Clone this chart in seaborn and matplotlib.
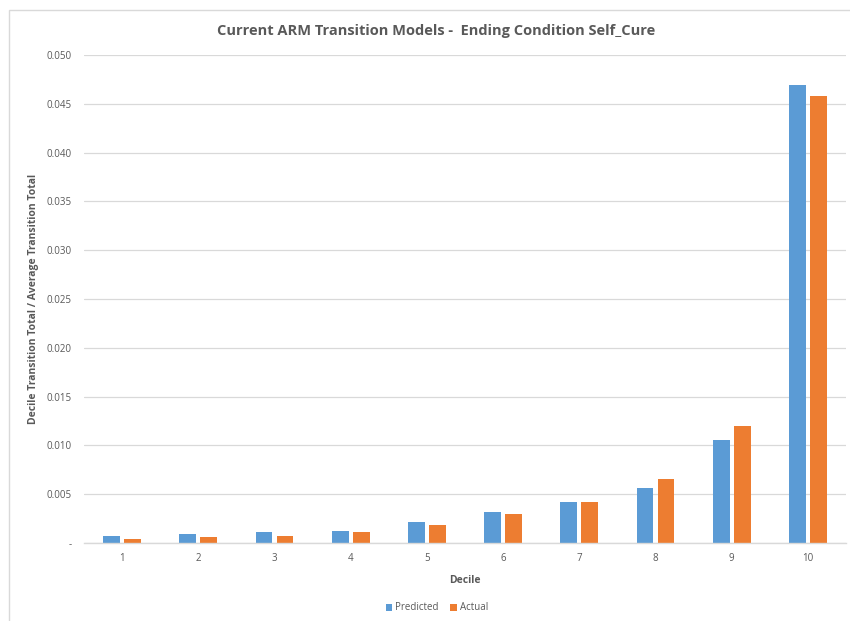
import matplotlib
matplotlib.use("Agg")
import matplotlib.pyplot as plt
import matplotlib.ticker as mticker
from matplotlib.patches import Rectangle
import seaborn as sns
import pandas as pd

deciles = ["1", "2", "3", "4", "5", "6", "7", "8", "9", "10"]
predicted = [0.00068, 0.00092, 0.00109, 0.00126, 0.00215, 0.00318, 0.00416, 0.00560, 0.01058, 0.04690]
actual = [0.00041, 0.00061, 0.00072, 0.00116, 0.00188, 0.00300, 0.00416, 0.00656, 0.01202, 0.04580]
series = ["Predicted", "Actual"]
colors = ["#5B9BD5", "#ED7D31"]
yticks = [0, 0.005, 0.010, 0.015, 0.020, 0.025, 0.030, 0.035, 0.040, 0.045, 0.050]

df = pd.DataFrame({
    "Decile": deciles * 2,
    "Value": predicted + actual,
    "Series": [series[0]] * len(deciles) + [series[1]] * len(deciles),
})

sns.set_style("white")
plt.rcParams["font.family"] = ["Open Sans", "DejaVu Sans"]

text_col = "#595959"
grid_col = "#D9D9D9"

fig = plt.figure(figsize=(8.5, 6.21), dpi=100)
ax = fig.add_axes([84 / 850, 1 - 543 / 621, 762 / 850, (543 - 55) / 621])

sns.barplot(data=df, x="Decile", y="Value", hue="Series", order=deciles,
            hue_order=series, palette=colors, width=0.55, gap=0.2,
            saturation=1, edgecolor="none", ax=ax, legend=True)

ax.set_ylim(0, 0.05)
ax.set_xlim(-0.5, len(deciles) - 0.5)
ax.set_yticks(yticks)
ax.yaxis.set_major_formatter(mticker.FuncFormatter(lambda v, p: "-" if abs(v) < 1e-12 else f"{v:.3f}"))
ax.grid(axis="y", color=grid_col, linewidth=0.9)
ax.set_axisbelow(True)
for side in ["top", "right", "left"]:
    ax.spines[side].set_visible(False)
ax.spines["bottom"].set_color(grid_col)
ax.spines["bottom"].set_linewidth(1.0)
ax.tick_params(axis="both", length=0, labelsize=7, colors=text_col, pad=7)
ax.tick_params(axis="y", pad=9)

ax.set_xlabel("Decile", fontsize=7.5, fontweight="bold", color=text_col, labelpad=8)
ax.set_ylabel("Decile Transition Total / Average Transition Total", fontsize=7.5,
              fontweight="bold", color=text_col, labelpad=5)

fig.text(0.513, 1 - 31 / 621, "Current ARM Transition Models -  Ending Condition Self_Cure",
         ha="center", va="center", fontsize=10.5, fontweight="bold", color=text_col)

leg = ax.legend(loc="center", bbox_to_anchor=(437 / 850, 1 - 608 / 621),
                bbox_transform=fig.transFigure, ncol=2, frameon=False,
                fontsize=7, handlelength=0.7, handleheight=0.7, handletextpad=0.3,
                columnspacing=1.2)
for t in leg.get_texts():
    t.set_color(text_col)

fig.patches.append(Rectangle((8.5 / 850, -0.05), 2.0, 1 - 9.5 / 621 + 0.05,
                             transform=fig.transFigure, fill=False,
                             edgecolor="#D9D9D9", linewidth=1.0))

fig.savefig("out.png", dpi=100)
